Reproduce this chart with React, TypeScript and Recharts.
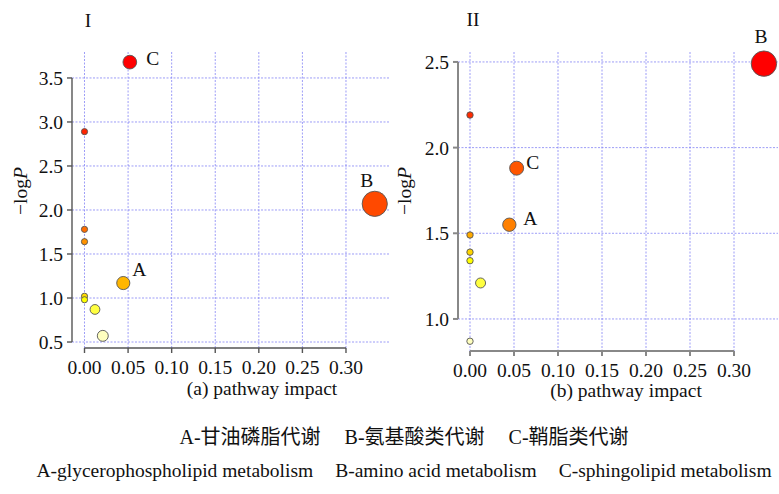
import { ScatterChart, Scatter, XAxis, YAxis, CartesianGrid, ReferenceLine } from 'recharts';

const X_TICKS = [0, 0.05, 0.1, 0.15, 0.2, 0.25, 0.3];

// panel I
const LEFT_IMPACT = [0.052, 0, 0.333, 0, 0, 0.0445, 0, 0, 0.012, 0.021];
const LEFT_LOGP = [3.68, 2.89, 2.07, 1.78, 1.64, 1.17, 1.02, 0.98, 0.87, 0.57];
const LEFT_TAGS = ['C', '', 'B', '', '', 'A', '', '', '', ''];
const LEFT_Y_TICKS = [0.5, 1, 1.5, 2, 2.5, 3, 3.5];

// panel II
const RIGHT_IMPACT = [0.334, 0, 0.053, 0.0447, 0, 0, 0, 0.012, 0];
const RIGHT_LOGP = [2.49, 2.19, 1.88, 1.55, 1.49, 1.39, 1.34, 1.21, 0.87];
const RIGHT_TAGS = ['B', '', 'C', 'A', '', '', '', '', ''];
const RIGHT_Y_TICKS = [1, 1.5, 2, 2.5];

const SERIF = '"Liberation Serif", "Times New Roman", serif';
const FONT = 19.5;

// R heat.colors(n)
function heatColors(n: number) {
  const j = Math.floor(n / 4);
  const i = n - j;
  const out: string[] = [];
  for (let k = 0; k < i; k++) {
    const h = i > 1 ? (k / (i - 1)) / 6 : 0;
    const g = Math.round(255 * h * 6);
    out.push(`rgb(255,${g},0)`);
  }
  for (let k = 0; k < j; k++) {
    const from = 1 - 1 / (2 * j);
    const to = 1 / (2 * j);
    const s = j > 1 ? from + (to - from) * (k / (j - 1)) : from;
    out.push(`rgb(255,255,${Math.round(255 * (1 - s))})`);
  }
  return out;
}

type PanelProps = {
  impact: number[];
  logp: number[];
  tags: string[];
  yTicks: number[];
  xDomain: [number, number];
  yDomain: [number, number];
  width: number;
  margin: { top: number; right: number; bottom: number; left: number };
  axisColor: string;
  axisWidth: number;
  offsets: Record<string, [number, number]>;
  rMin: number;
  rMax: number;
};

function Panel(p: PanelProps) {
  const order = p.logp.map((_, i) => i).sort((a, b) => p.logp[b] - p.logp[a]);
  const cols = heatColors(p.logp.length);
  const colorOf: string[] = [];
  order.forEach((idx, rank) => (colorOf[idx] = cols[rank]));
  const maxSq = Math.sqrt(Math.max(...p.impact));

  const data = p.impact.map((x, i) => ({ x, y: p.logp[i], tag: p.tags[i], fill: colorOf[i] }));

  const shape = (props: any) => {
    const { cx, cy, payload } = props;
    const r = p.rMin + (p.rMax - p.rMin) * Math.sqrt(payload.x) / maxSq;
    const off = p.offsets[payload.tag];
    return (
      <g>
        <circle cx={cx} cy={cy} r={r} fill={payload.fill} stroke="#555" strokeWidth={0.9} />
        {payload.tag && off ? (
          <text
            x={cx + off[0]}
            y={cy + off[1]}
            textAnchor="middle"
            dominantBaseline="central"
            fontFamily={SERIF}
            fontSize={FONT}
            fill="#111"
          >
            {payload.tag}
          </text>
        ) : null}
      </g>
    );
  };

  // grid only at the tick values, never at the plot edges
  const plotH = 400 - p.margin.top - p.margin.bottom - 40;
  const plotW = p.width - p.margin.left - p.margin.right - 50;
  const yPix = (v: number, axis: any) =>
    axis && typeof axis.scale === 'function'
      ? axis.scale(v)
      : p.margin.top + plotH * (p.yDomain[1] - v) / (p.yDomain[1] - p.yDomain[0]);
  const xPix = (v: number, axis: any) =>
    axis && typeof axis.scale === 'function'
      ? axis.scale(v)
      : p.margin.left + 50 + plotW * (v - p.xDomain[0]) / (p.xDomain[1] - p.xDomain[0]);

  const tickStyle = { fontFamily: SERIF, fontSize: FONT, fill: '#111' };
  const lineStyle = { stroke: p.axisColor, strokeWidth: p.axisWidth };

  return (
    <ScatterChart width={p.width} height={400} margin={p.margin}>
      <CartesianGrid
        stroke="#7c7cf4"
        strokeDasharray="2 1.5"
        strokeOpacity={0.75}
        horizontalCoordinatesGenerator={({ yAxis }: any) => p.yTicks.map((t) => yPix(t, yAxis))}
        verticalCoordinatesGenerator={({ xAxis }: any) => X_TICKS.map((t) => xPix(t, xAxis))}
      />
      <XAxis
        type="number"
        dataKey="x"
        domain={p.xDomain}
        ticks={X_TICKS}
        interval={0}
        height={40}
        axisLine={false}
        tickLine={lineStyle}
        tickSize={5}
        tickMargin={7}
        tick={tickStyle}
        tickFormatter={(v: number) => v.toFixed(2)}
      />
      <YAxis
        type="number"
        dataKey="y"
        domain={p.yDomain}
        ticks={p.yTicks}
        interval={0}
        width={50}
        axisLine={false}
        tickLine={lineStyle}
        tickSize={5}
        tickMargin={4}
        tick={tickStyle}
        tickFormatter={(v: number) => v.toFixed(1)}
      />
      <ReferenceLine
        segment={[{ x: p.xDomain[0], y: p.yTicks[0] }, { x: p.xDomain[0], y: p.yTicks[p.yTicks.length - 1] }]}
        stroke={p.axisColor}
        strokeWidth={p.axisWidth}
        ifOverflow="visible"
      />
      <ReferenceLine
        segment={[{ x: X_TICKS[0], y: p.yDomain[0] }, { x: X_TICKS[X_TICKS.length - 1], y: p.yDomain[0] }]}
        stroke={p.axisColor}
        strokeWidth={p.axisWidth}
        ifOverflow="visible"
      />
      <Scatter data={data} shape={shape} isAnimationActive={false} />
    </ScatterChart>
  );
}

export default function App() {
  const txt = { fontFamily: SERIF, fontSize: FONT, fill: '#111' };
  return (
    <div style={{ position: 'absolute', left: 0, top: 0, width: 779, height: 494, background: '#fff' }}>
      <div style={{ position: 'absolute', left: 0, top: 0 }}>
        <Panel
          impact={LEFT_IMPACT}
          logp={LEFT_LOGP}
          tags={LEFT_TAGS}
          yTicks={LEFT_Y_TICKS}
          xDomain={[-0.01434, 0.3505]}
          yDomain={[0.432, 3.795]}
          width={392}
          margin={{ top: 52, right: 2, bottom: 12, left: 22 }}
          axisColor="#555"
          axisWidth={1.4}
          offsets={{ C: [23, -4], B: [-8, -23], A: [16, -14] }}
          rMin={3.1}
          rMax={12.6}
        />
      </div>
      <div style={{ position: 'absolute', left: 390, top: 0 }}>
        <Panel
          impact={RIGHT_IMPACT}
          logp={RIGHT_LOGP}
          tags={RIGHT_TAGS}
          yTicks={RIGHT_Y_TICKS}
          xDomain={[-0.01364, 0.35]}
          yDomain={[0.813, 2.558]}
          width={389}
          margin={{ top: 52, right: 1, bottom: 9, left: 18 }}
          axisColor="#888"
          axisWidth={2}
          offsets={{ B: [-3, -27], C: [16, -6], A: [21, -6] }}
          rMin={3.2}
          rMax={12.7}
        />
      </div>
      <svg width={779} height={494} style={{ position: 'absolute', left: 0, top: 0, pointerEvents: 'none' }}>
        <text x={88} y={27} textAnchor="middle" {...txt}>I</text>
        <text x={473} y={26} textAnchor="middle" {...txt}>II</text>
        <text transform="translate(27,191) rotate(-90)" textAnchor="middle" {...txt}>
          −log<tspan fontStyle="italic">P</tspan>
        </text>
        <text transform="translate(411,191) rotate(-90)" textAnchor="middle" {...txt}>
          −log<tspan fontStyle="italic">P</tspan>
        </text>
        <text x={262} y={395} textAnchor="middle" {...txt}>(a) pathway impact</text>
        <text x={626} y={397} textAnchor="middle" {...txt}>(b) pathway impact</text>
        <text
          x={404}
          y={444}
          textAnchor="middle"
          {...txt}
          fontSize={20}
          fontFamily={'"Liberation Serif", "Noto Sans CJK SC", serif'}
        >
          <tspan>A-甘油磷脂代谢</tspan>
          <tspan dx={24}>B-氨基酸类代谢</tspan>
          <tspan dx={24}>C-鞘脂类代谢</tspan>
        </text>
        <text x={404} y={477} textAnchor="middle" {...txt}>
          <tspan>A-glycerophospholipid metabolism</tspan>
          <tspan dx={22}>B-amino acid metabolism</tspan>
          <tspan dx={22}>C-sphingolipid metabolism</tspan>
        </text>
      </svg>
    </div>
  );
}
